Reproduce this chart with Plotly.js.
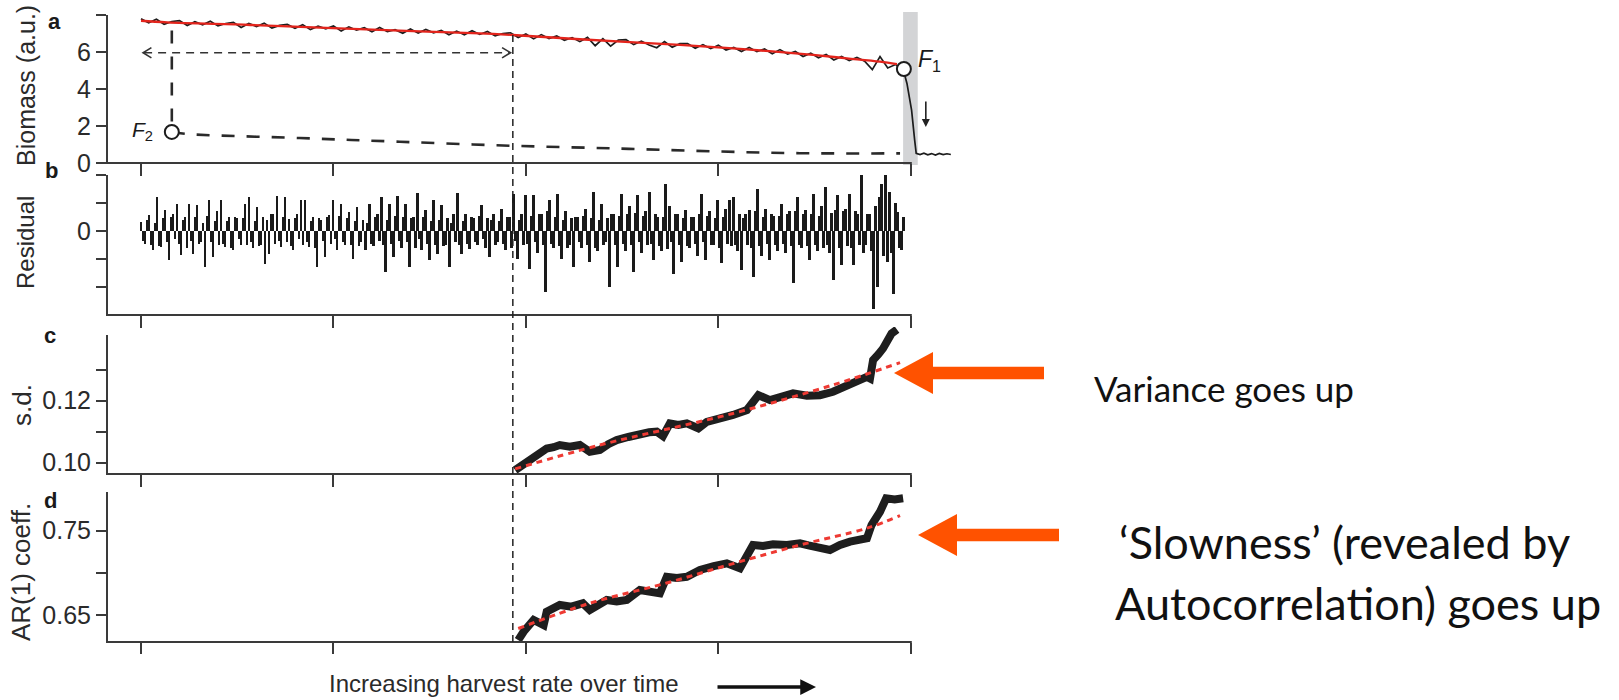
<!DOCTYPE html>
<html>
<head>
<meta charset="utf-8">
<script src="https://cdn.plot.ly/plotly-3.0.1.min.js"></script>
<style>html,body{margin:0;padding:0;background:#fff}#chart{width:1619px;height:700px}</style>
</head>
<body>
<div id="chart"></div>
<script>
// ================= DATA =================
const xTickVals = [0, 250, 500, 750, 1000];

// Panel a: biomass (black noisy series)
const bioT = [0,10,20,30,40,50,60,70,80,90,100,110,120,130,140,150,160,170,180,190,
  200,210,220,230,240,250,260,270,280,290,300,310,320,330,340,350,360,370,380,390,
  400,410,420,430,440,450,460,470,480,490,500,510,520,530,540,550,560,570,580,590,
  600,610,620,630,640,650,660,670,680,690,700,710,720,730,740,750,760,770,780,790,
  800,810,820,830,840,850,860,870,880,890,900,910,920,930,940,950,960,970,980,990,
  995,1001,1005,1007,1012,1017,1022,1027,1032,1037,1042,1047,1052];
const bioV = [7.79,7.58,7.77,7.50,7.65,7.70,7.43,7.64,7.47,7.66,7.41,7.54,7.60,7.32,7.54,7.38,7.56,7.29,7.44,7.49,
  7.28,7.48,7.21,7.39,7.25,7.41,7.13,7.36,7.18,7.31,7.09,7.33,7.10,7.21,7.01,7.24,7.02,7.22,7.04,7.17,
  6.93,7.13,6.93,7.15,6.95,7.11,6.87,7.00,7.04,6.78,6.97,6.71,6.94,6.73,6.87,6.63,6.78,6.56,6.79,6.34,
  6.72,6.32,6.65,6.67,6.40,6.59,6.38,6.23,6.56,6.26,6.45,6.46,6.20,6.40,6.18,6.37,6.10,6.25,6.03,6.25,
  6.02,6.16,5.91,6.13,5.89,6.03,5.76,5.94,5.69,5.87,5.57,5.76,5.54,5.70,5.50,5.05,5.75,5.14,5.32,5.08,
  4.30,2.86,1.24,0.52,0.46,0.53,0.44,0.51,0.43,0.52,0.45,0.50,0.46];
// Panel a: fitted trend (red)
const fitT = [0,34,142,249,362,440,483,570,700,787,873,917,960,982];
const fitV = [7.69,7.60,7.46,7.29,7.11,7.01,6.92,6.69,6.38,6.14,5.84,5.66,5.48,5.35];
// Panel a: lower stable branch (dashed)
const lowT = [40,60,206,336,479,622,752,856,986];
const lowV = [1.68,1.57,1.35,1.15,0.935,0.78,0.62,0.53,0.52];
// Bifurcation points
const foldT = [991, 40];
const foldV = [5.08, 1.68];

// Panel b: residuals (two interleaved samplings: resA at i*step, resB at i*step + step/2)
const resStep = 5.2;
const resA = [0.32,-0.45,0.56,-0.69,1.2,-0.57,0.74,-1.05,0.6,0.98,
  -0.86,0.5,0.98,-0.81,0.92,-0.4,-1.29,1.1,-0.93,0.7,
  1.12,-0.57,0.5,-0.69,0.45,-0.5,0.98,1.21,-0.6,0.86,
  -0.5,-1.17,-0.81,0.6,1.25,-0.57,1.21,0.44,-0.69,0.6,
  1.1,1.1,-0.57,0.5,-1.29,0.4,-0.93,0.56,1.12,-0.69,
  0.98,-0.5,0.68,-0.99,0.86,-0.4,-0.69,0.98,-0.55,0.6,
  1.21,-1.46,0.98,-0.93,1.24,-0.6,0.98,-1.29,0.5,1.37,
  -0.69,0.74,-1.05,1.1,-0.81,0.92,-0.5,-1.29,0.6,1.37,
  -0.81,0.62,-0.63,0.45,-0.5,0.92,-0.6,-0.93,0.62,-0.4,
  0.8,-0.69,0.5,1.33,-0.99,0.6,
  1.27,-1.35,1.27,-0.8,0.6,-2.18,1.1,-0.6,1.33,-1.0,
  0.7,-0.5,-1.29,0.5,-0.6,0.8,-1.1,1.39,-0.7,0.98,
  -0.4,-2.0,0.6,-1.29,1.33,-0.7,0.9,-1.46,1.27,-0.8,
  0.7,1.39,-1.05,0.5,-0.7,1.69,0.9,-1.52,0.6,-1.1,
  0.74,-0.6,0.5,-0.9,1.33,-1.05,0.7,-0.5,1.1,-1.15,
  0.8,1.1,1.21,-0.7,-1.4,0.6,0.74,-1.64,1.51,-0.9,
  0.8,-1.05,0.55,-0.7,0.98,-0.8,0.7,-1.86,1.21,-0.6,
  0.74,-1.05,1.33,-0.7,0.9,1.57,-0.8,-1.76,1.27,-1.2,
  0.8,1.33,-1.2,0.6,2.1,-0.5,0.6,-2.77,-2.0,1.69,
  2.23,1.4,-2.24,0.68,-0.69];
const resB = [-0.35,0.4,-0.5,0.3,-0.55,0.45,-0.4,0.5,-0.3,-0.45,
  0.4,-0.6,-0.35,0.5,-0.45,0.3,0.55,-0.4,0.35,-0.5,
  -0.45,0.35,-0.6,0.5,-0.3,0.45,-0.5,-0.4,0.35,-0.55,
  0.5,0.4,0.6,-0.45,-0.35,0.5,-0.4,-0.55,0.45,-0.3,
  -0.5,-0.4,0.35,-0.6,0.45,-0.35,0.5,-0.45,-0.3,0.55,
  -0.4,0.45,-0.5,0.35,-0.55,0.4,0.3,-0.45,0.5,-0.35,
  -0.5,0.4,-0.45,0.55,-0.35,0.5,-0.4,0.45,-0.6,-0.3,
  0.5,-0.45,0.35,-0.5,0.4,-0.55,0.45,0.3,-0.4,-0.5,
  0.35,-0.45,0.5,-0.4,0.55,-0.3,0.45,0.4,-0.5,0.35,
  -0.45,0.5,-0.6,-0.35,0.4,-0.5,
  -0.45,0.55,-0.4,0.6,-0.5,0.7,-0.45,0.5,-0.55,0.4,
  -0.6,0.45,0.5,-0.4,0.55,-0.5,0.45,-0.6,0.4,-0.5,
  0.45,0.6,-0.5,0.55,-0.45,0.6,-0.5,0.65,-0.4,0.55,
  -0.5,-0.45,0.6,-0.55,0.5,-0.65,-0.4,0.6,-0.5,0.45,
  -0.55,0.5,-0.45,0.6,-0.4,0.55,-0.5,0.45,-0.6,0.5,
  -0.45,-0.55,-0.5,0.6,0.45,-0.5,-0.6,0.7,-0.55,0.5,
  -0.45,0.6,-0.5,0.55,-0.45,0.6,-0.55,0.7,-0.5,0.6,
  -0.55,0.6,-0.5,0.55,-0.6,-0.5,0.65,0.75,-0.6,0.7,
  -0.55,-0.6,0.7,-0.5,-0.8,0.6,-0.7,0.9,1.2,-0.9,
  -1.1,-0.8,1.0,-0.6,0.5];

// Panel c: rolling s.d.
const sdT = [486,497,510,518,527,536,544,557,570,583,596,607,618,633,648,660,670,678,687,698,709,724,735,752,769,787,802,817,832,847,865,882,899,910,921,932,943,947,951,958,964,975,982];
const sdV = [0.0976,0.0995,0.1014,0.1025,0.1046,0.1050,0.1057,0.1052,0.1057,0.1035,0.1041,0.1060,0.1073,0.1083,0.1095,0.1098,0.1100,0.1086,0.1127,0.1122,0.1127,0.1111,0.1132,0.1140,0.1154,0.1170,0.1218,0.1202,0.1212,0.1224,0.1216,0.1218,0.1229,0.1240,0.1256,0.1262,0.1277,0.1272,0.1331,0.1350,0.1369,0.1417,0.1430];
const sdFitT = [486,596,769,899,986];
const sdFitV = [0.0980,0.1057,0.1159,0.1251,0.1323];

// Panel d: AR(1) coefficient
const arT = [490,497,510,523,527,535,544,559,574,583,595,605,618,631,648,661,674,683,696,709,726,744,761,778,795,808,821,839,856,867,878,895,908,921,943,949,960,968,979,990];
const arV = [0.6203,0.6302,0.6441,0.6381,0.6539,0.6580,0.6619,0.6600,0.6639,0.6559,0.6630,0.6678,0.6660,0.6678,0.6797,0.6770,0.6757,0.6954,0.6940,0.6954,0.7034,0.7080,0.7113,0.7054,0.7330,0.7320,0.7339,0.7330,0.7350,0.7325,0.7310,0.7271,0.7330,0.7370,0.7410,0.7568,0.7725,0.7884,0.7870,0.7884];
const arFitT = [490,583,683,769,856,943,986];
const arFitV = [0.634,0.664,0.688,0.711,0.733,0.753,0.768];

// Texts
const yTitles = ['Biomass (a.u.)', 'Residual', 's.d.', 'AR(1) coeff.'];
const panelLetters = ['a', 'b', 'c', 'd'];
const xTitle = 'Increasing harvest rate over time';
const note1 = 'Variance goes up';
const note2a = '\u2018Slowness\u2019 (revealed by';
const note2b = 'Autocorrelation) goes up';

// ================= LAYOUT HELPERS =================
const L = 107, R = 957, T = 15, B = 642;
const XR = [-44.2, 1060];
const px2x = p => (p - L) / (R - L);
const py2y = p => (B - p) / (B - T);
const t2px = t => L + (t - XR[0]) / (XR[1] - XR[0]) * (R - L);
const dom = (top, bot) => [py2y(bot), py2y(top)];
const AX = '#3a3a3a';
const helv = 'Liberation Sans, Arial, sans-serif';
const tickFont = {family: helv, size: 25, color: '#2a2a2a'};

const xBase = {range: XR, tickvals: xTickVals, showticklabels: false, ticks: 'outside', ticklen: 12,
  tickwidth: 1.6, tickcolor: AX, showline: false, zeroline: false, showgrid: false, fixedrange: true};
const yBase = {ticks: 'outside', ticklen: 10, tickwidth: 1.6, tickcolor: AX, showline: false,
  zeroline: false, showgrid: false, tickfont: tickFont, fixedrange: true};

const layout = {
  width: 1619, height: 700,
  margin: {l: L, r: 1619 - R, t: T, b: 700 - B},
  paper_bgcolor: '#fff', plot_bgcolor: 'rgba(0,0,0,0)',
  showlegend: false,
  bargap: 0,
  xaxis:  Object.assign({}, xBase, {anchor: 'y'}),
  xaxis2: Object.assign({}, xBase, {anchor: 'y2'}),
  xaxis3: Object.assign({}, xBase, {anchor: 'y3'}),
  xaxis4: Object.assign({}, xBase, {anchor: 'y4', ticklen: 11}),
  yaxis:  Object.assign({}, yBase, {anchor: 'x', domain: dom(15, 163), range: [0, 8],
            tickvals: [0, 2, 4, 6, 8], ticktext: ['0', '2', '4', '6', '']}),
  yaxis2: Object.assign({}, yBase, {anchor: 'x2', domain: dom(175, 315), range: [-3, 2],
            tickvals: [-2, -1, 0, 1, 2], ticktext: ['', '', '0', '', '']}),
  yaxis3: Object.assign({}, yBase, {anchor: 'x3', domain: dom(327, 474), range: [0.09635, 0.1438],
            tickvals: [0.10, 0.11, 0.12, 0.13], ticktext: ['0.10', '', '0.12', '']}),
  yaxis4: Object.assign({}, yBase, {anchor: 'x4', domain: dom(492, 642), range: [0.618, 0.7959],
            tickvals: [0.65, 0.70, 0.75], ticktext: ['0.65', '', '0.75']}),
  shapes: [], annotations: []
};

// axis lines (drawn as shapes so that data may run past them)
const xEnd = t2px(1000);
[[15, 163], [175, 315], [335, 474], [492, 642]].forEach(([top, bot]) => {
  layout.shapes.push({type: 'line', xref: 'paper', yref: 'paper', x0: 0, x1: 0,
    y0: py2y(bot + 1), y1: py2y(top), line: {color: AX, width: 2}});
  layout.shapes.push({type: 'line', xref: 'paper', yref: 'paper', x0: px2x(L - 1), x1: px2x(xEnd + 1),
    y0: py2y(bot), y1: py2y(bot), line: {color: AX, width: 2}});
});

// grey collapse band
layout.shapes.push({type: 'rect', xref: 'x', yref: 'paper', x0: 990, x1: 1009,
  y0: py2y(165), y1: py2y(12), fillcolor: '#d3d4d6', line: {width: 0}, layer: 'below'});

// long vertical dashed line through all panels
layout.shapes.push({type: 'line', xref: 'x', yref: 'paper', x0: 483, x1: 483,
  y0: 0, y1: py2y(33), line: {color: '#222', width: 1.5, dash: '7px,5px'}});

// double-headed arrow heads (panel a, at biomass 5.96)
layout.shapes.push({type: 'path', xref: 'x', yref: 'y', path: 'M 13.5,6.24 L 2.6,5.96 L 13.5,5.68',
  line: {color: '#333', width: 1.6}});
layout.shapes.push({type: 'path', xref: 'x', yref: 'y', path: 'M 469,6.24 L 480,5.96 L 469,5.68',
  line: {color: '#333', width: 1.6}});

// orange callout arrows
function arrowPath(tipX, tipY, headX, headHalf, shaftHalf, tailX) {
  const pts = [[tipX, tipY], [headX, tipY - headHalf], [headX, tipY - shaftHalf], [tailX, tipY - shaftHalf],
    [tailX, tipY + shaftHalf], [headX, tipY + shaftHalf], [headX, tipY + headHalf]];
  return 'M ' + pts.map(p => px2x(p[0]).toFixed(5) + ',' + py2y(p[1]).toFixed(5)).join(' L ') + ' Z';
}
const ORANGE = '#ff5200';
layout.shapes.push({type: 'path', xref: 'paper', yref: 'paper', path: arrowPath(894, 373, 933, 21, 6.2, 1044),
  fillcolor: ORANGE, line: {width: 0}});
layout.shapes.push({type: 'path', xref: 'paper', yref: 'paper', path: arrowPath(918, 535, 957, 21, 6.2, 1059),
  fillcolor: ORANGE, line: {width: 0}});

// ================= TRACES =================
const dk = '#1c1c1c';
const resX = resA.map((_, i) => i * resStep).concat(resB.map((_, i) => i * resStep + resStep / 2));
const resY = resA.concat(resB);
const data = [
  {type: 'scatter', mode: 'lines', x: bioT, y: bioV, xaxis: 'x', yaxis: 'y',
   line: {color: dk, width: 1.7}, hoverinfo: 'skip'},
  {type: 'scatter', mode: 'lines', x: fitT, y: fitV, xaxis: 'x', yaxis: 'y',
   line: {color: '#e3241c', width: 2.3, shape: 'spline'}, hoverinfo: 'skip'},
  {type: 'scatter', mode: 'lines', x: lowT, y: lowV, xaxis: 'x', yaxis: 'y',
   line: {color: '#2a2a2a', width: 2.6, dash: '13px,12px', shape: 'spline'}, hoverinfo: 'skip'},
  {type: 'scatter', mode: 'lines', x: [foldT[1], foldT[1]], y: [2.25, 7.46], xaxis: 'x', yaxis: 'y',
   line: {color: '#2a2a2a', width: 2.6, dash: '13px,13px'}, hoverinfo: 'skip'},
  {type: 'scatter', mode: 'lines', x: [4, 479], y: [5.96, 5.96], xaxis: 'x', yaxis: 'y',
   line: {color: '#333', width: 1.6, dash: '8px,6px'}, hoverinfo: 'skip'},
  {type: 'scatter', mode: 'markers', x: foldT, y: foldV, xaxis: 'x', yaxis: 'y', cliponaxis: false,
   marker: {symbol: 'circle', size: 14, color: '#fff', line: {color: dk, width: 2}}, hoverinfo: 'skip'},
  {type: 'bar', x: resX, y: resY, xaxis: 'x2', yaxis: 'y2', width: 3.4,
   marker: {color: '#1a1a1a', line: {width: 0}}, hoverinfo: 'skip'},
  {type: 'scatter', mode: 'lines', x: sdT, y: sdV, xaxis: 'x3', yaxis: 'y3', cliponaxis: false,
   line: {color: '#1e1e1e', width: 8}, hoverinfo: 'skip'},
  {type: 'scatter', mode: 'lines', x: sdFitT, y: sdFitV, xaxis: 'x3', yaxis: 'y3',
   line: {color: '#ee3a33', width: 3, dash: '6px,5px', shape: 'spline'}, hoverinfo: 'skip'},
  {type: 'scatter', mode: 'lines', x: arT, y: arV, xaxis: 'x4', yaxis: 'y4', cliponaxis: false,
   line: {color: '#1e1e1e', width: 8}, hoverinfo: 'skip'},
  {type: 'scatter', mode: 'lines', x: arFitT, y: arFitV, xaxis: 'x4', yaxis: 'y4',
   line: {color: '#ee3a33', width: 3, dash: '6px,5px', shape: 'spline'}, hoverinfo: 'skip'}
];

// ================= ANNOTATIONS =================
const A = layout.annotations;
// y titles
[[yTitles[0], 26, 86, 25], [yTitles[1], 25, 243, 24], [yTitles[2], 22, 405, 26], [yTitles[3], 21, 572, 26]]
  .forEach(([txt, x, y, s]) => A.push({text: txt, xref: 'paper', yref: 'paper', x: px2x(x), y: py2y(y),
    xanchor: 'center', yanchor: 'middle', textangle: -90, showarrow: false,
    font: {family: helv, size: s, color: '#2a2a2a'}}));
// panel letters
[[0, 54, 21], [1, 52, 170], [2, 50, 335], [3, 51, 500]].forEach(([i, x, y]) =>
  A.push({text: '<b>' + panelLetters[i] + '</b>', xref: 'paper', yref: 'paper', x: px2x(x), y: py2y(y),
    xanchor: 'center', yanchor: 'middle', showarrow: false, font: {family: helv, size: 22, color: '#1a1a1a'}}));
// fold labels
A.push({text: '<i>F</i><sub>1</sub>', xref: 'paper', yref: 'paper', x: px2x(916), y: py2y(60),
  xanchor: 'left', yanchor: 'middle', showarrow: false, font: {family: helv, size: 23, color: '#1a1a1a'}});
A.push({text: '<i>F</i><sub>2</sub>', xref: 'paper', yref: 'paper', x: px2x(155), y: py2y(131),
  xanchor: 'right', yanchor: 'middle', showarrow: false, font: {family: helv, size: 21, color: '#1a1a1a'}});
// small collapse arrow
A.push({text: '', xref: 'x', yref: 'y', x: 1019.5, y: 1.95, axref: 'x', ayref: 'y', ax: 1019.5, ay: 3.4,
  showarrow: true, arrowhead: 2, arrowsize: 1, arrowwidth: 1.6, arrowcolor: '#222', standoff: 0});
// x title and arrow
A.push({text: xTitle, xref: 'paper', yref: 'paper', x: px2x(504), y: py2y(683), xanchor: 'center',
  yanchor: 'middle', showarrow: false, font: {family: helv, size: 24, color: '#2a2a2a'}});
A.push({text: '', xref: 'paper', yref: 'paper', x: px2x(816), y: py2y(687), ax: -100, ay: 0,
  showarrow: true, arrowhead: 2, arrowsize: 0.9, arrowwidth: 3.5, arrowcolor: '#111', standoff: 0});
// right-hand notes
A.push({text: note1, xref: 'paper', yref: 'paper', x: px2x(1092), y: py2y(388), xanchor: 'left',
  yanchor: 'middle', showarrow: false, font: {family: 'Lato, Noto Sans, sans-serif', size: 35, color: '#111'}});
const noteFont2 = {family: 'Lato, Noto Sans, sans-serif', size: 45, color: '#111'};
A.push({text: note2a, xref: 'paper', yref: 'paper', x: px2x(1117), y: py2y(542), xanchor: 'left',
  yanchor: 'middle', showarrow: false, font: noteFont2});
A.push({text: note2b, xref: 'paper', yref: 'paper', x: px2x(1113), y: py2y(603), xanchor: 'left',
  yanchor: 'middle', showarrow: false, font: noteFont2});

Plotly.newPlot('chart', data, layout, {displayModeBar: false, responsive: false});
</script>
</body>
</html>
